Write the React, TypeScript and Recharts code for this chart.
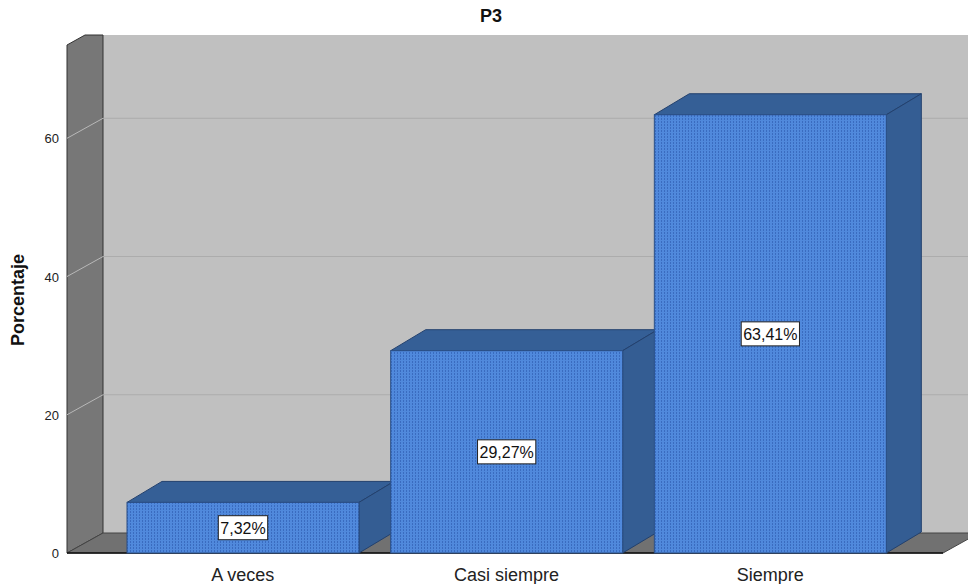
import { BarChart, Bar, XAxis, YAxis, ReferenceArea, CartesianGrid, LabelList } from 'recharts';

const categories = ['A veces', 'Casi siempre', 'Siempre'];
const percentages = [7.32, 29.27, 63.41];
const percentLabels = ['7,32%', '29,27%', '63,41%'];
const yTicks = [0, 20, 40, 60];
const gridValues = [20, 40, 60];
const yMax = 73.5;

const data = categories.map((cat, i) => ({ cat, pct: percentages[i], label: percentLabels[i] }));

const FONT = '"Liberation Sans", Arial, sans-serif';
const PAD_LEFT = 44;
const PAD_RIGHT = 41;
// depth of the fake 3D walls and bars
const WALL_DX = 36;
const WALL_DY = 20;
const BAR_DX = 35;
const BAR_DY = 21;

const Walls = (props: any) => {
  const { y, height } = props;
  // the reference area is inset by the x axis padding, undo it
  const x = props.x - PAD_LEFT;
  const width = props.width + PAD_LEFT + PAD_RIGHT;
  const bottom = y + height;
  const right = x + width;
  const top = y - 10;
  const side = [
    [x, bottom], [x, y], [x + 18, top], [x + WALL_DX, top], [x + WALL_DX, bottom - WALL_DY],
  ].map(p => p.join(',')).join(' ');
  const floor = [
    [x, bottom], [right, bottom], [right + WALL_DX, bottom - WALL_DY], [x + WALL_DX, bottom - WALL_DY],
  ].map(p => p.join(',')).join(' ');
  return (
    <g>
      <rect x={x + WALL_DX} y={top} width={width + 40} height={bottom - WALL_DY - top} fill="#c0c0c0" />
      <polygon points={side} fill="#777777" stroke="#333" strokeWidth={1} />
      <polygon points={floor} fill="#717171" stroke="#444" strokeWidth={1} />
      <line x1={x} y1={bottom} x2={right} y2={bottom} stroke="#111" strokeWidth={1.5} />
    </g>
  );
};

const GridLine = (props: any) => {
  const { x1, y1, x2 } = props;
  return (
    <g>
      <line x1={x1} y1={y1} x2={x1 + WALL_DX} y2={y1 - WALL_DY} stroke="#b8b8b8" strokeWidth={1} />
      <line x1={x1 + WALL_DX} y1={y1 - WALL_DY} x2={x2 + WALL_DX + 40} y2={y1 - WALL_DY} stroke="#acacac" strokeWidth={1} />
    </g>
  );
};

const Bar3D = (props: any) => {
  const { x, y, width, height } = props;
  const b = y + height;
  const r = x + width;
  const topFace = `${x},${y} ${x + BAR_DX},${y - BAR_DY} ${r + BAR_DX},${y - BAR_DY} ${r},${y}`;
  const sideFace = `${r},${y} ${r + BAR_DX},${y - BAR_DY} ${r + BAR_DX},${b - BAR_DY} ${r},${b}`;
  return (
    <g>
      <polygon points={topFace} fill="#355f96" stroke="#23416e" strokeWidth={1} />
      <polygon points={sideFace} fill="#345d93" stroke="#23416e" strokeWidth={1} />
      <rect x={x} y={y} width={width} height={height} fill="url(#dots)" stroke="#2a4f86" strokeWidth={1} />
    </g>
  );
};

const textWidth = (s: string, size: number) => {
  let w = 0;
  for (const ch of s) {
    if (ch === ',') w += 0.278;
    else if (ch === '%') w += 0.889;
    else w += 0.556;
  }
  return w * size;
};

const ValueBox = (props: any) => {
  const { x, y, width, height, value } = props;
  const cx = x + width / 2;
  const cy = y + height / 2;
  const w = textWidth(String(value), 16) + 4;
  return (
    <g>
      <rect x={cx - w / 2} y={cy - 12} width={w} height={24} fill="#ffffff" stroke="#222" strokeWidth={1} />
      <text x={cx} y={cy + 6} textAnchor="middle" fontSize={16} fontFamily={FONT} fill="#111">{value}</text>
    </g>
  );
};

const YTick = (props: any) => {
  const { x, y, payload } = props;
  return (
    <text x={x - 6} y={y + 5} textAnchor="end" fontSize={13} fontFamily={FONT} fill="#222">{payload.value}</text>
  );
};

const XTick = (props: any) => {
  const { x, y, payload } = props;
  return (
    <text x={x} y={y + 26} textAnchor="middle" fontSize={18} fontFamily={FONT} fill="#222">{payload.value}</text>
  );
};

export default function App() {
  return (
    <div style={{ position: 'absolute', left: 0, top: 0, width: 968, height: 584, background: '#fff', fontFamily: FONT }}>
      <div style={{ position: 'absolute', left: 491, top: 6, transform: 'translateX(-50%)', fontWeight: 'bold', fontSize: 18, color: '#111' }}>P3</div>
      <div style={{ position: 'absolute', left: 18, top: 300, transform: 'translate(-50%, -50%) rotate(-90deg)', fontWeight: 'bold', fontSize: 18, color: '#111', whiteSpace: 'nowrap' }}>Porcentaje</div>
      <BarChart width={968} height={584} data={data} margin={{ top: 45, right: 25, bottom: 0, left: 0 }}>
        <defs>
          <pattern id="dots" width="3" height="3" patternUnits="userSpaceOnUse">
            <rect width="3" height="3" fill="#5089dc" />
            <rect x="1" y="1" width="1" height="2" fill="#3a6cc0" />
          </pattern>
        </defs>
        <ReferenceArea y1={0} y2={yMax} shape={<Walls />} zIndex={-200} />
        <CartesianGrid vertical={false} horizontalValues={gridValues} horizontal={(p: any) => <GridLine key={p.key ?? p.index} {...p} />} />
        <XAxis dataKey="cat" height={31} padding={{ left: PAD_LEFT, right: PAD_RIGHT }} axisLine={false} tickLine={false} tickSize={0} tick={<XTick />} interval={0} />
        <YAxis width={67} domain={[0, yMax]} ticks={yTicks} axisLine={false} tickLine={false} tickSize={0} tick={<YTick />} />
        <Bar dataKey="pct" barSize={232} shape={<Bar3D />} isAnimationActive={false}>
          <LabelList dataKey="label" content={<ValueBox />} />
        </Bar>
      </BarChart>
    </div>
  );
}
